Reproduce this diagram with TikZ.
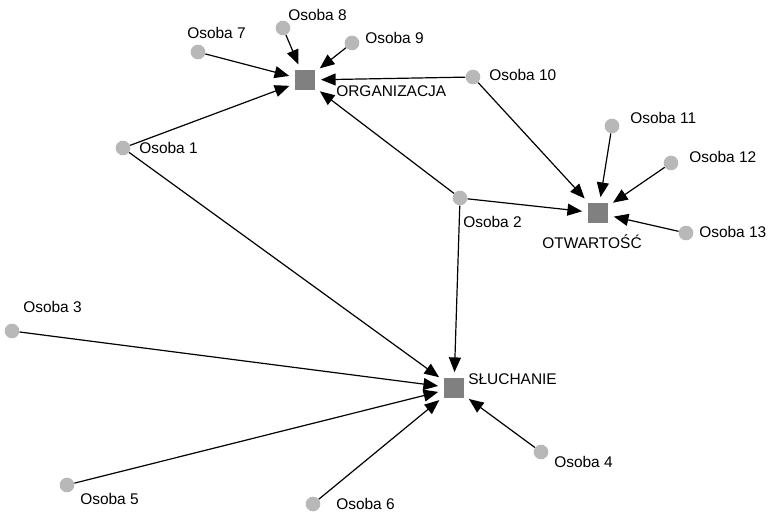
\documentclass[tikz,border=0pt]{standalone}
\usepackage{fontspec}
\setmainfont{Liberation Sans}
\usetikzlibrary{arrows.meta}
\definecolor{dotgray}{RGB}{184,184,184}
\definecolor{boxgray}{RGB}{128,128,128}
\tikzset{
  osoba/.style={circle, fill=dotgray, draw=none, minimum size=11pt, inner sep=0pt},
  cecha/.style={rectangle, fill=boxgray, draw=none, minimum size=15.5pt, inner sep=0pt},
  lbl/.style={anchor=west, inner sep=0pt, text height=8.3pt, text depth=0pt, font=\fontsize{11.6}{14}\selectfont},
  arr/.style={line width=0.9pt, -{Triangle[length=11pt,width=9pt]}, shorten >=4pt}
}
\begin{document}
\begin{tikzpicture}[x=0.75pt, y=-0.75pt]
    \useasboundingbox (0,0) rectangle (768,514);

    % Cechy (kwadraty)
    \node[cecha] (org) at (305,80) {};
    \node[cecha] (otw) at (598,213) {};
    \node[cecha] (slu) at (454,388) {};
    \node[lbl] (orgt) at (336,91) {ORGANIZACJA};
    \node[lbl] (otwt) at (542,243) {OTWARTOŚĆ};
    \node[lbl] (slut) at (468,379) {SŁUCHANIE};

    % Osoby
    \node[osoba] (o1) at (123,148) {};
    \node[osoba] (o2) at (460,198) {};
    \node[osoba] (o3) at (12,331) {};
    \node[osoba] (o4) at (541,452) {};
    \node[osoba] (o5) at (67,485) {};
    \node[osoba] (o6) at (313,504) {};
    \node[osoba] (o7) at (198,52) {};
    \node[osoba] (o8) at (283,28) {};
    \node[osoba] (o9) at (352,43) {};
    \node[osoba] (o10) at (473,77) {};
    \node[osoba] (o11) at (612,126) {};
    \node[osoba] (o12) at (671,163) {};
    \node[osoba] (o13) at (686,233) {};

    \node[lbl] (o1t) at (139,148) {Osoba 1};
    \node[lbl] (o2t) at (463,222) {Osoba 2};
    \node[lbl] (o3t) at (23,307) {Osoba 3};
    \node[lbl] (o4t) at (554,462) {Osoba 4};
    \node[lbl] (o5t) at (80,499) {Osoba 5};
    \node[lbl] (o6t) at (336,504) {Osoba 6};
    \node[lbl] (o7t) at (187,33) {Osoba 7};
    \node[lbl] (o8t) at (288,15) {Osoba 8};
    \node[lbl] (o9t) at (365,38) {Osoba 9};
    \node[lbl] (o10t) at (489,75) {Osoba 10};
    \node[lbl] (o11t) at (630,118) {Osoba 11};
    \node[lbl] (o12t) at (689,157) {Osoba 12};
    \node[lbl] (o13t) at (699,232) {Osoba 13};

    % Powiazania
    \foreach \o in {o1,o2,o7,o8,o9,o10}
        \draw[arr] (\o) -- (org);
    \foreach \o in {o2,o10,o11,o12,o13}
        \draw[arr] (\o) -- (otw);
    \foreach \o in {o1,o2,o3,o4,o5,o6}
        \draw[arr] (\o) -- (slu);
\end{tikzpicture}
\end{document}
